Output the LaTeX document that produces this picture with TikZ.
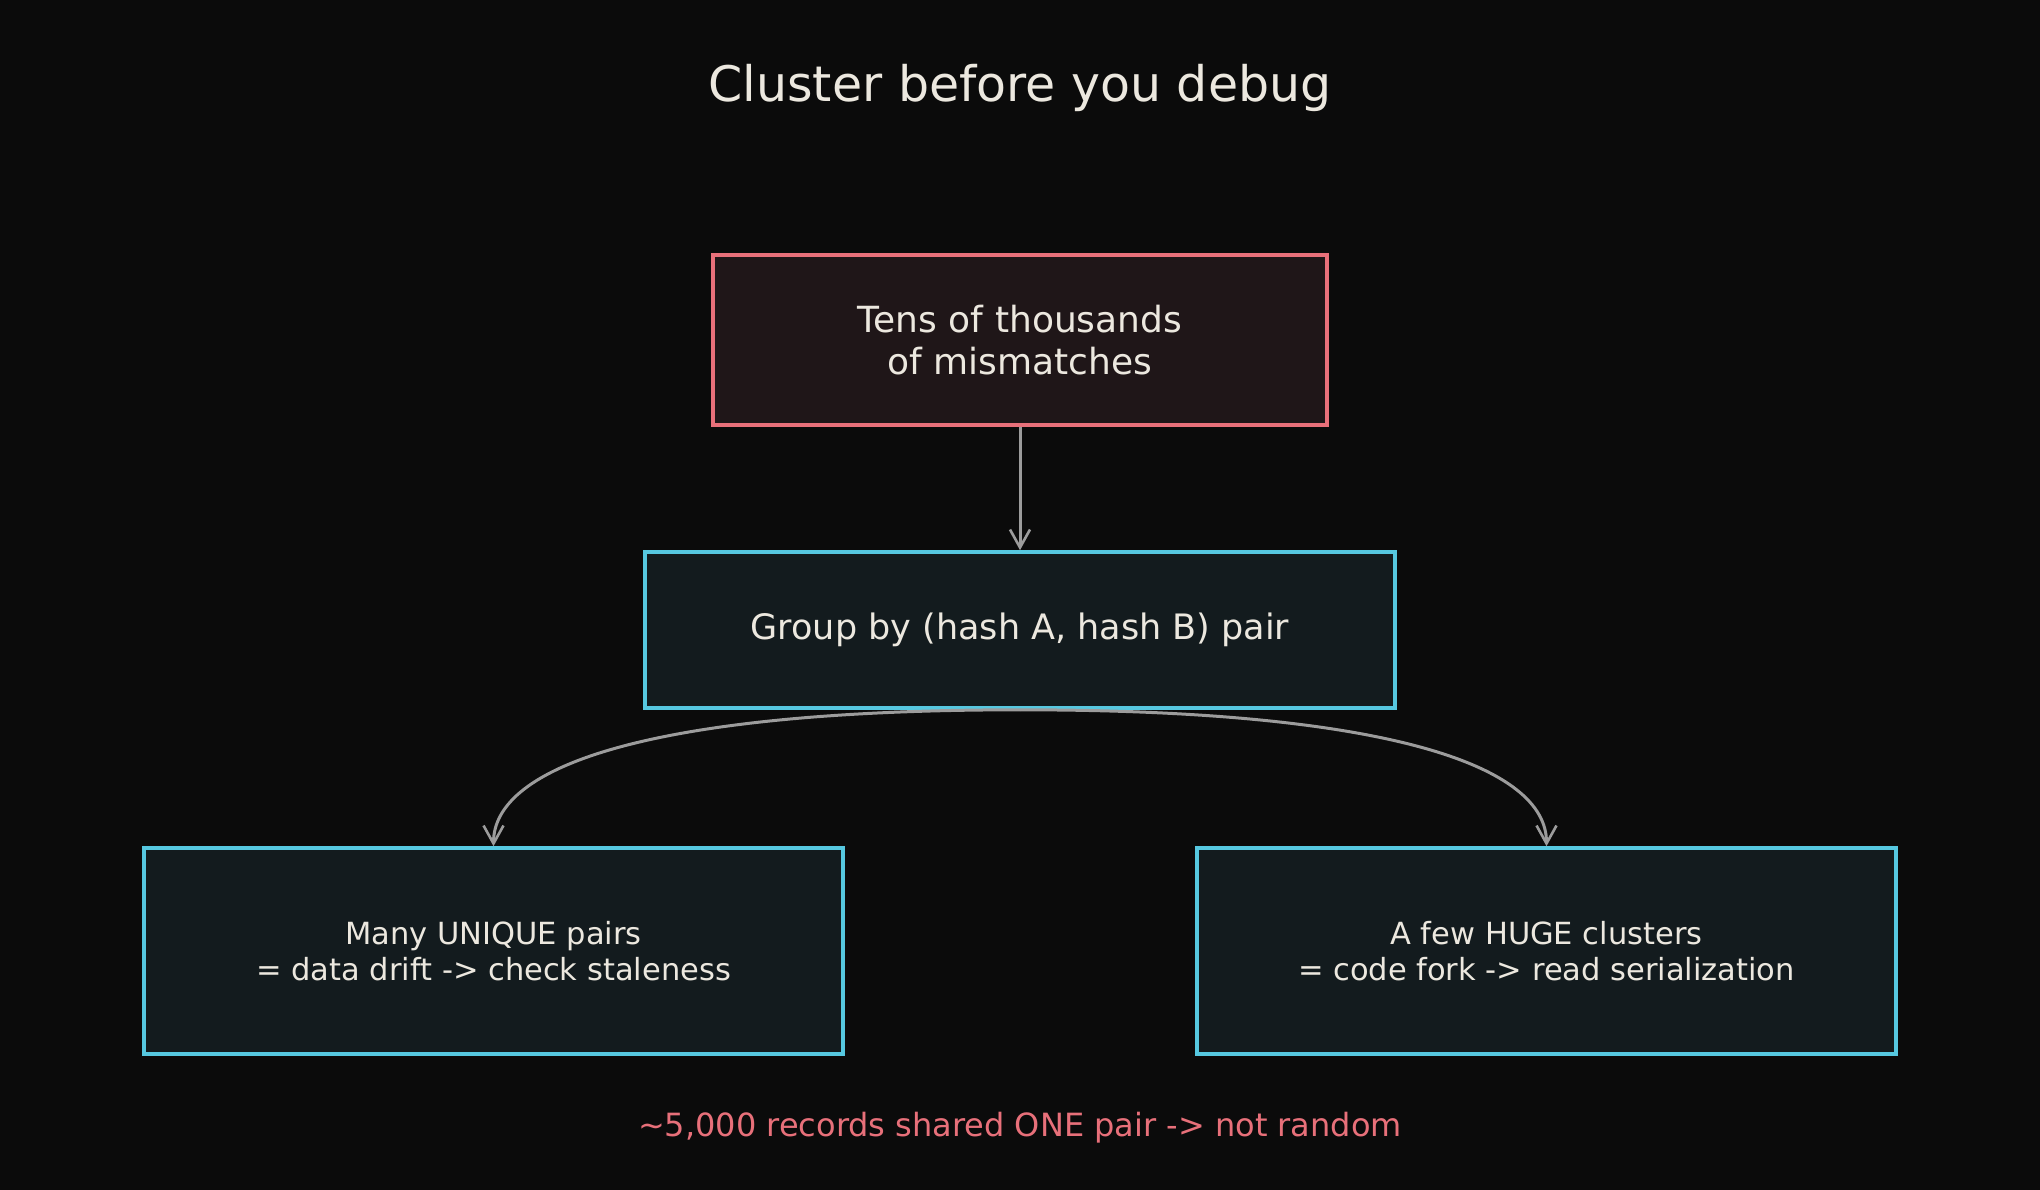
\documentclass[tikz,border=0pt]{standalone}
\usepackage{fontspec}
\setmainfont{DejaVu Sans}
\usetikzlibrary{arrows.meta}
\definecolor{bg}{HTML}{0B0B0B}
\definecolor{txt}{HTML}{ECE8DF}
\definecolor{redline}{HTML}{E8707A}
\definecolor{redfill}{HTML}{1F1618}
\definecolor{cyanline}{HTML}{56C8E0}
\definecolor{cyanfill}{HTML}{131B1E}
\definecolor{arrowgray}{HTML}{9C9C9C}
\tikzset{
  box/.style={draw, line width=3.6pt, rectangle, align=center, text=txt, inner sep=0pt},
  redbox/.style={box, draw=redline, fill=redfill},
  cyanbox/.style={box, draw=cyanline, fill=cyanfill},
  conn/.style={draw=arrowgray, line width=3pt, -{Straight Barb[length=18pt,width=20pt,line width=2.6pt]}},
}
\begin{document}
\begin{tikzpicture}[x=1pt,y=-1pt]
\fill[bg] (0,0) rectangle (2040,1190);
\useasboundingbox (0,0) rectangle (2040,1190);

\node[text=txt, font=\fontsize{49}{56}\selectfont] (title) at (1020,88) {Cluster before you debug};

\node[redbox, minimum width=614pt, minimum height=170pt, font=\fontsize{36}{42}\selectfont] (top) at (1020,340) {Tens of thousands\\of mismatches};

\node[cyanbox, minimum width=750pt, minimum height=156pt, font=\fontsize{35}{40}\selectfont] (mid) at (1020,630) {Group by (hash A, hash B) pair};

\node[cyanbox, minimum width=699pt, minimum height=206pt, font=\fontsize{30.5}{36}\selectfont] (left) at (493.5,951) {Many UNIQUE pairs\\= data drift -> check staleness};

\node[cyanbox, minimum width=699pt, minimum height=206pt, font=\fontsize{30.5}{36}\selectfont] (right) at (1546.5,951) {A few HUGE clusters\\= code fork -> read serialization};

\node[text=redline, font=\fontsize{32}{38}\selectfont] (foot) at (1020,1128) {\textasciitilde5,000 records shared ONE pair -> not random};

\draw[conn] (top.south) -- (mid.north);
\draw[conn] (mid.south) .. controls +(-370,0) and +(0,-80) .. (left.north);
\draw[conn] (mid.south) .. controls +(370,0) and +(0,-80) .. (right.north);
\end{tikzpicture}
\end{document}
